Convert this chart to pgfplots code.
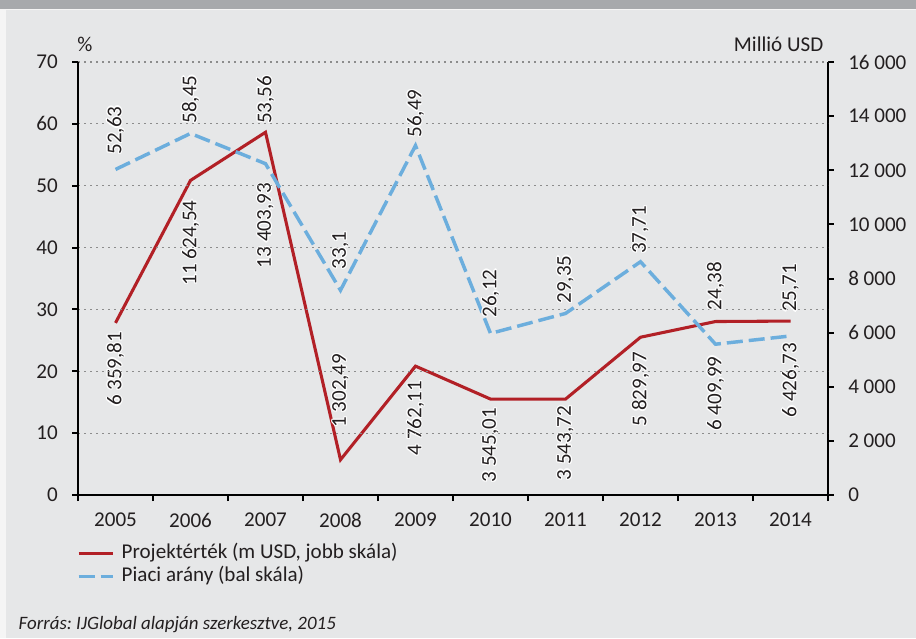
\documentclass[border=0pt]{standalone}
\usepackage{pgfplots}
\pgfplotsset{compat=1.18}
\usepackage{pgfplotstable}
\usepackage{fontspec}
\setmainfont{Carlito}
\frenchspacing
\definecolor{bg}{RGB}{230,231,232}
\definecolor{barc}{RGB}{167,169,172}
\definecolor{edgec}{RGB}{245,245,245}
\definecolor{redl}{RGB}{178,32,38}
\definecolor{bluel}{RGB}{108,174,221}
\definecolor{gridc}{RGB}{140,140,140}
\definecolor{txt}{RGB}{35,31,32}
\newcommand\fs{\fontsize{15.8}{18.5}\selectfont}
\newcommand\halo[1]{\begingroup\setbox0=\hbox{#1}%
\def\hh##1##2{\rlap{\color{white}\kern##1\raise##2\copy0}}%
\hh{.9pt}{0pt}\hh{-.9pt}{0pt}\hh{0pt}{.9pt}\hh{0pt}{-.9pt}%
\hh{.65pt}{.65pt}\hh{-.65pt}{.65pt}\hh{.65pt}{-.65pt}\hh{-.65pt}{-.65pt}%
\box0\endgroup}
% label below the point (gap in px), label above the point (gap in px)
\protected\def\dn#1#2{\hbox to 0pt{\hss\halo{#2}\kern\dimexpr #1pt*3/4\relax}}
\protected\def\up#1#2{\hbox to 0pt{\kern\dimexpr #1pt*3/4\relax\halo{#2}\hss}}

\pgfplotstableread[col sep=semicolon,row sep=\\]{
x;y;lab\\
2005;52.63;\up{15}{52,63}\\
2006;58.45;\up{10}{58,45}\\
2007;53.56;\up{40}{53,56}\\
2008;33.1;\up{21}{33,1}\\
2009;56.49;\up{8}{56,49}\\
2010;26.12;\up{16}{26,12}\\
2011;29.35;\up{10}{29,35}\\
2012;37.71;\up{8}{37,71}\\
2013;24.38;\up{34}{24,38}\\
2014;25.71;\up{24}{25,71}\\
}\bluedata

\pgfplotstableread[col sep=semicolon,row sep=\\]{
x;y;lab\\
2005;6359.81;\dn{9}{6~359,81}\\
2006;11624.54;\dn{20}{11~624,54}\\
2007;13403.93;\dn{51}{13~403,93}\\
2008;1302.49;\up{32}{1~302,49}\\
2009;4762.11;\dn{15}{4~762,11}\\
2010;3545.01;\dn{9}{3~545,01}\\
2011;3543.72;\dn{7}{3~543,72}\\
2012;5829.97;\dn{15}{5~829,97}\\
2013;6409.99;\dn{35}{6~409,99}\\
2014;6426.73;\dn{22}{6~426,73}\\
}\reddata

\pgfplotsset{
  common/.style={
    at={(58.5pt,-371.25pt)}, anchor=south west, scale only axis,
    width=562.5pt, height=324.75pt,
    xmin=2004.5, xmax=2014.5, ymin=0, clip=false,
    tick align=outside,
    major tick length=4.5pt, minor tick length=4.5pt,
    every tick/.style={black, line width=1.5pt},
    axis line style={black, line width=1.8pt},
    scaled ticks=false,
    /pgf/number format/assume math mode=true,
    every tick label/.append style={font=\fs, text=txt},
  },
  lbl/.style={
    point meta=explicit symbolic,
    nodes near coords={\pgfplotspointmeta},
    every node near coord/.style={rotate=90, anchor=center, inner sep=0pt, font=\fs, text=txt},
  },
}

\begin{document}
\begin{tikzpicture}
\begin{scope}[x=0.75pt,y=-0.75pt]
\fill[edgec] (0,0) rectangle (916,638);
\fill[barc] (0,0) rectangle (916,9.5);
\fill[bg] (6,10.5) rectangle (916,638);
\useasboundingbox (0,0) rectangle (916,638);
\end{scope}

% right axis: project value
\begin{axis}[common,
  ymax=16000,
  axis y line*=right, axis x line=none,
  ytick={0,2000,4000,6000,8000,10000,12000,14000,16000},
  yticklabels={0,2 000,4 000,6 000,8 000,10 000,12 000,14 000,16 000},
  yticklabel style={inner sep=0pt, anchor=west, xshift=10.5pt},
]
\addplot[redl, line width=2.3pt, mark=none, lbl, forget plot] table[x=x, y=y, meta=lab] {\reddata};
\end{axis}

% left axis: market share
\begin{axis}[common,
  ymax=70,
  axis y line*=left, axis x line*=bottom,
  ytick={0,10,...,70},
  xtick={2005,2006,2007,2008,2009,2010,2011,2012,2013,2014},
  xticklabels={2005,2006,2007,2008,2009,2010,2011,2012,2013,2014},
  major x tick style={draw=none},
  minor xtick={2004.5,2005.5,2006.5,2007.5,2008.5,2009.5,2010.5,2011.5,2012.5,2013.5,2014.5},
  minor x tick style={black, line width=1.5pt},
  ymajorgrids, grid style={gridc, line width=0.9pt, dash pattern=on 1.2pt off 3.3pt},
  yticklabel style={inner sep=0pt, anchor=east, xshift=-10.5pt},
  xticklabel style={inner sep=0pt, anchor=north, yshift=-9pt},
  legend cell align=left,
  legend image code/.code={\draw[#1] (0pt,0pt) -- (26pt,0pt);},
  legend style={at={(axis description cs:0,0)}, anchor=north west, xshift=-1pt, yshift=-35pt,
    draw=none, fill=none, inner sep=0pt, column sep=5pt, font=\fs, text=txt,
    nodes={inner xsep=0pt, inner ysep=1.2pt, text height=11.4pt, text depth=3.6pt}},
]
\addplot[bluel, line width=2.6pt, dash pattern=on 12pt off 4.5pt, mark=none, lbl, forget plot] table[x=x, y=y, meta=lab] {\bluedata};
\addlegendimage{redl, line width=2.3pt}
\addlegendentry{Projektérték (m USD, jobb skála)}
\addlegendimage{bluel, line width=2.6pt, dash pattern=on 12pt off 4.5pt}
\addlegendentry{Piaci arány (bal skála)}
\end{axis}

\begin{scope}[x=0.75pt,y=-0.75pt]
\node[anchor=base, font=\fs, text=txt] at (85,52) {\%};
\node[anchor=base east, font=\fs, text=txt] at (828,52) {Millió USD};
\node[anchor=base west, font=\fontsize{14.2}{17}\selectfont\itshape, text=txt] at (14,629) {Forrás: IJGlobal alapján szerkesztve, 2015};
\end{scope}
\end{tikzpicture}
\end{document}
